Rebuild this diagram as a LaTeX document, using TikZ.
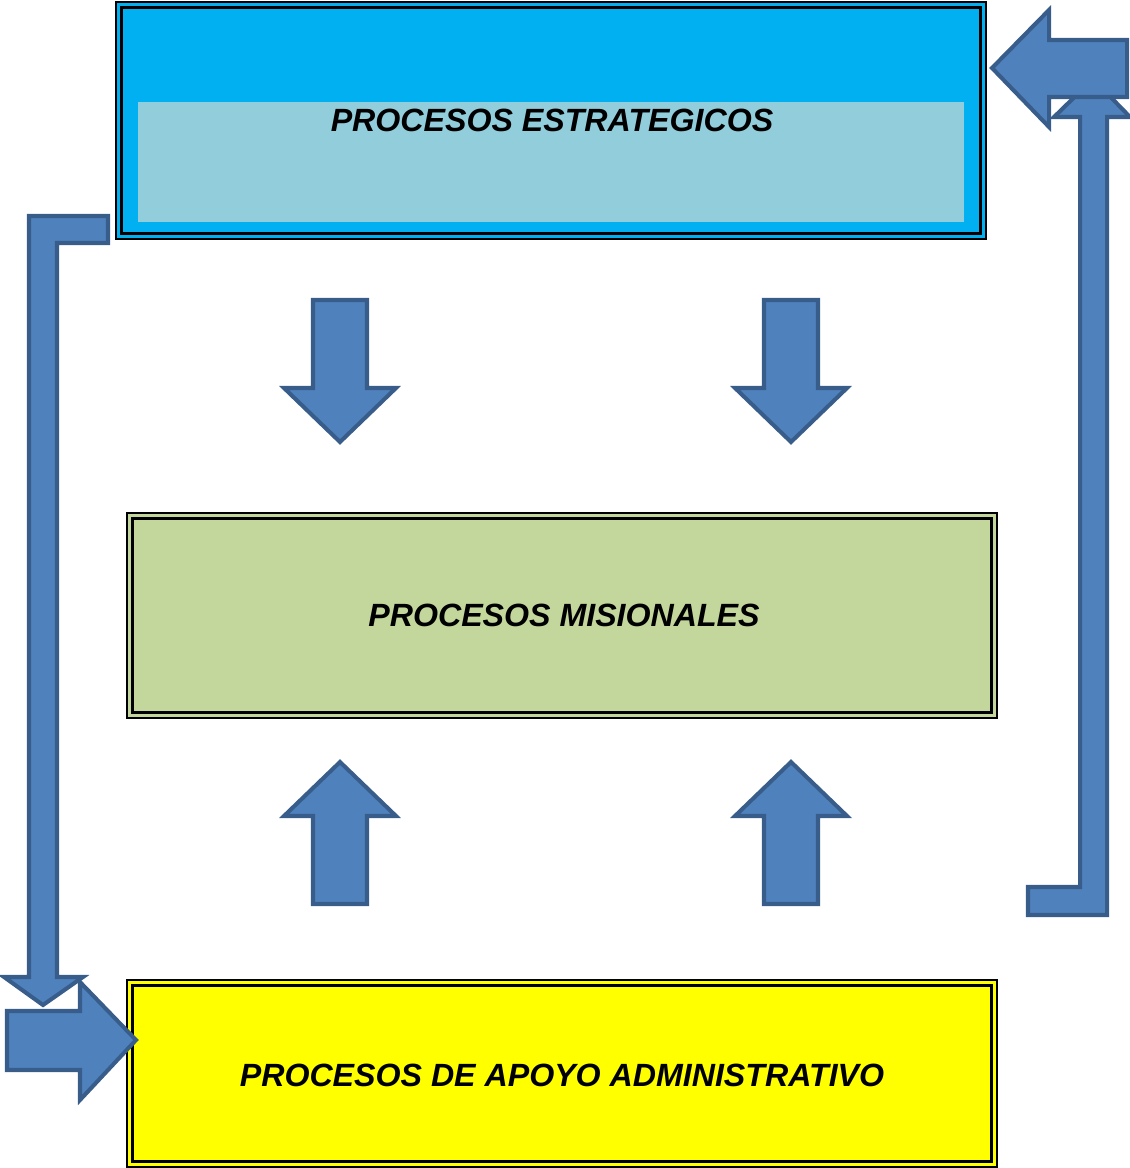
\documentclass[tikz,border=0pt]{standalone}
\usepackage{fontspec}
\setmainfont{Liberation Sans}
\usetikzlibrary{calc}

\definecolor{azulflecha}{RGB}{79,129,189}
\definecolor{bordeflecha}{RGB}{56,93,138}
\definecolor{celeste}{RGB}{0,176,240}
\definecolor{celesteclaro}{RGB}{146,205,220}
\definecolor{verdemis}{RGB}{195,214,155}
\definecolor{amarillo}{RGB}{255,255,0}

\tikzset{
	caja/.style={draw=black, line width=0.85pt, rectangle, inner sep=0pt, minimum width=17.4cm},
	rotulo/.style={font=\fontsize{18.3}{22}\selectfont\bfseries\itshape},
	flecha/.style={fill=azulflecha, draw=bordeflecha, line width=2.3pt, line join=miter},
}

\begin{document}
\begin{tikzpicture}[x=0.02cm, y=-0.02cm]
	
	\useasboundingbox (0,0) rectangle (1129,1168);
	
	\def\borde{6};
	
	% cajas
	\node[caja, fill=celeste, minimum height=4.74cm] (estrategicos) at (551,120.5) {};
	\draw[line width=1.7pt] ($(estrategicos.north west)+(\borde,\borde)$) rectangle ($(estrategicos.south east)+(-\borde,-\borde)$);
	\fill[celesteclaro] (138,102) rectangle (964,222);
	\node[rotulo] (txtestrategicos) at ([xshift=0.02cm]estrategicos.center) {PROCESOS ESTRATEGICOS};
	
	\node[caja, fill=verdemis, minimum height=4.1cm] (misionales) at (562,615.5) {};
	\draw[line width=1.7pt] ($(misionales.north west)+(\borde,\borde)$) rectangle ($(misionales.south east)+(-\borde,-\borde)$);
	\node[rotulo] (txtmisionales) at ([xshift=0.04cm]misionales.center) {PROCESOS MISIONALES};
	
	\node[caja, fill=amarillo, minimum height=3.74cm] (apoyo) at (562,1073.5) {};
	\draw[line width=1.7pt] ($(apoyo.north west)+(\borde,\borde)$) rectangle ($(apoyo.south east)+(-\borde,-\borde)$);
	\node[rotulo] (txtapoyo) at ([yshift=-0.03cm]apoyo.center) {PROCESOS DE APOYO ADMINISTRATIVO};
	
	% flechas entre cajas
	\foreach \cx in {340,791} {
		\draw[flecha] (\cx-27,300) -- ++(54,0) -- ++(0,88) -- ++(29,0) -- (\cx,442) -- (\cx-56,388) -- ++(29,0) -- cycle;
		\draw[flecha] (\cx-27,904) -- ++(54,0) -- ++(0,-88) -- ++(29,0) -- (\cx,762) -- (\cx-56,816) -- ++(29,0) -- cycle;
	}
	
	% retorno izquierdo
	\draw[flecha] (29,216) -- (108,216) -- (108,243) -- (57,243) -- (57,977) -- (83,977) -- (43,1005) -- (4,977) -- (29,977) -- cycle;
	\draw[flecha] (7,1011) -- (80,1011) -- (80,982) -- (136,1040) -- (80,1100) -- (80,1070) -- (7,1070) -- cycle;
	
	% retorno derecho
	\draw[flecha] (1028,887) -- (1080,887) -- (1080,117) -- (1054,117) -- (1093,79) -- (1130,117) -- (1107,117) -- (1107,915) -- (1028,915) -- cycle;
	\draw[flecha] (1127,40) -- (1049,40) -- (1049,10) -- (992,68) -- (1049,127) -- (1049,97) -- (1127,97) -- cycle;

\end{tikzpicture}
\end{document}
